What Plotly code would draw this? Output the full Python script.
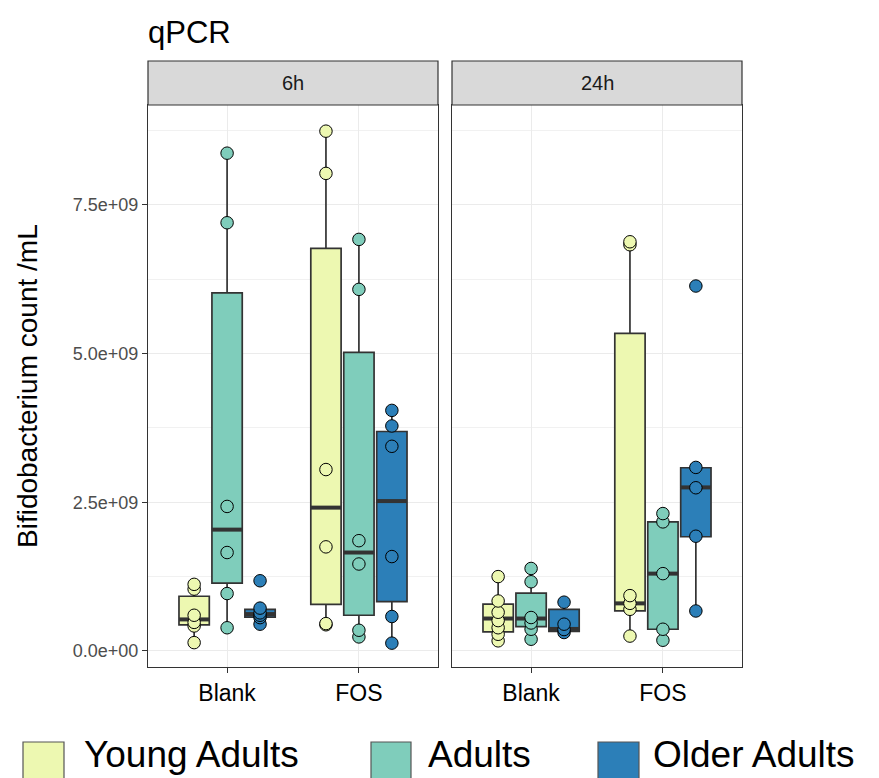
import plotly.graph_objects as go

# ---------------- data (values in units of 1e9 per mL) ----------------
timepoints = ["6h", "24h"]
treatments = ["Blank", "FOS"]
groups = ["Young Adults", "Adults", "Older Adults"]
colors = ["#edf8b1", "#7fcdbb", "#2c7fb8"]

young_6h_blank = [0.14, 0.42, 0.48, 0.60, 1.04, 1.12]
adults_6h_blank = [0.39, 0.965, 1.655, 2.43, 7.20, 8.37]
older_6h_blank = [0.45, 0.56, 0.60, 0.64, 0.72, 1.18]
young_6h_fos = [0.44, 0.46, 1.75, 3.05, 8.03, 8.74]
adults_6h_fos = [0.236, 0.348, 1.462, 1.854, 6.08, 6.92]
older_6h_fos = [0.131, 0.579, 1.587, 3.441, 3.783, 4.045]
young_24h_blank = [0.17, 0.28, 0.39, 0.51, 0.65, 0.84, 1.25]
adults_24h_blank = [0.197, 0.365, 0.47, 0.562, 1.163, 1.387]
older_24h_blank = [0.31, 0.36, 0.45, 0.82]
young_24h_fos = [0.25, 0.70, 0.80, 0.93, 6.83, 6.88]
adults_24h_fos = [0.18, 0.365, 1.30, 2.17, 2.31]
older_24h_fos = [0.672, 1.929, 2.744, 3.086, 6.136]

# box statistics, order: 6h Blank, 6h FOS, 24h Blank, 24h FOS
young_q1 = [0.44, 0.784, 0.32, 0.674]
young_med = [0.53, 2.41, 0.545, 0.80]
young_q3 = [0.92, 6.77, 0.787, 5.34]
young_lo = [0.14, 0.44, 0.17, 0.25]
young_hi = [1.12, 8.74, 1.25, 6.88]
adults_q1 = [1.14, 0.60, 0.41, 0.365]
adults_med = [2.04, 1.655, 0.545, 1.30]
adults_q3 = [6.02, 5.02, 0.972, 2.17]
adults_lo = [0.39, 0.236, 0.197, 0.18]
adults_hi = [8.37, 6.92, 1.387, 2.31]
older_q1 = [0.57, 0.83, 0.33, 1.92]
older_med = [0.62, 2.52, 0.37, 2.75]
older_q3 = [0.70, 3.69, 0.70, 3.08]
older_lo = [0.45, 0.131, 0.31, 0.672]
older_hi = [0.70, 4.045, 0.82, 3.08]

y_tickvals = [0, 2.5, 5.0, 7.5]
y_ticktext = ["0.0e+00", "2.5e+09", "5.0e+09", "7.5e+09"]

points = {
    ("6h", "Young Adults"): [young_6h_blank, young_6h_fos],
    ("6h", "Adults"): [adults_6h_blank, adults_6h_fos],
    ("6h", "Older Adults"): [older_6h_blank, older_6h_fos],
    ("24h", "Young Adults"): [young_24h_blank, young_24h_fos],
    ("24h", "Adults"): [adults_24h_blank, adults_24h_fos],
    ("24h", "Older Adults"): [older_24h_blank, older_24h_fos],
}
stats = {
    "Young Adults": (young_q1, young_med, young_q3, young_lo, young_hi),
    "Adults": (adults_q1, adults_med, adults_q3, adults_lo, adults_hi),
    "Older Adults": (older_q1, older_med, older_q3, older_lo, older_hi),
}

SCALE = 1e9
DODGE = 0.25
BOXW = 0.23
FONT = "Liberation Sans, Arial, sans-serif"

fig = go.Figure()
axes = [("x", "y"), ("x2", "y2")]

# boxes
for ti, tp in enumerate(timepoints):
    xa, ya = axes[ti]
    for gi, g in enumerate(groups):
        q1, med, q3, lo, hi = stats[g]
        sl = slice(ti * 2, ti * 2 + 2)
        pos = [ci + 1 + (gi - 1) * DODGE for ci in range(len(treatments))]
        fig.add_trace(go.Box(
            x=pos,
            q1=[v * SCALE for v in q1[sl]],
            median=[v * SCALE for v in med[sl]],
            q3=[v * SCALE for v in q3[sl]],
            lowerfence=[v * SCALE for v in lo[sl]],
            upperfence=[v * SCALE for v in hi[sl]],
            width=BOXW, whiskerwidth=0, boxpoints=False,
            fillcolor=colors[gi], line=dict(color="#333333", width=1.7),
            xaxis=xa, yaxis=ya, showlegend=False, name=g, hoverinfo="skip",
        ))

# thick median lines
for ti, tp in enumerate(timepoints):
    xa, ya = axes[ti]
    for gi, g in enumerate(groups):
        med = stats[g][1][ti * 2: ti * 2 + 2]
        xs, ys = [], []
        for ci in range(len(treatments)):
            p = ci + 1 + (gi - 1) * DODGE
            xs += [p - BOXW / 2, p + BOXW / 2, None]
            ys += [med[ci] * SCALE, med[ci] * SCALE, None]
        fig.add_trace(go.Scatter(x=xs, y=ys, mode="lines",
                                 line=dict(color="#333333", width=4),
                                 xaxis=xa, yaxis=ya, showlegend=False, hoverinfo="skip"))

# points
for ti, tp in enumerate(timepoints):
    xa, ya = axes[ti]
    for gi, g in enumerate(groups):
        xs, ys = [], []
        for ci, vals in enumerate(points[(tp, g)]):
            p = ci + 1 + (gi - 1) * DODGE
            xs += [p] * len(vals)
            ys += [v * SCALE for v in vals]
        fig.add_trace(go.Scatter(x=xs, y=ys, mode="markers",
                                 marker=dict(size=12.5, color=colors[gi],
                                             line=dict(color="black", width=1)),
                                 xaxis=xa, yaxis=ya, showlegend=False))

# ---------------- layout ----------------
W, H = 879, 778
L, R, T, B = 148, 137, 105, 111
PW, PH = W - L - R, H - T - B


def px_x(px):
    return (px - L) / PW


def px_y(py):
    return (H - B - py) / PH


grid = "#ebebeb"
border = "#333333"
xcommon = dict(range=[0.4, 2.6], tickmode="array", tickvals=[1, 2], ticktext=treatments,
               showgrid=True, gridcolor=grid, gridwidth=1.2, zeroline=False,
               showline=True, mirror=True, linecolor=border, linewidth=1.2,
               ticks="outside", ticklen=5, tickcolor=border, tickwidth=1.2,
               tickfont=dict(family=FONT, size=23, color="black"))
yrange = [-0.27 * SCALE, 9.18 * SCALE]
ycommon = dict(range=yrange, tickmode="array", tickvals=[v * SCALE for v in y_tickvals],
               ticktext=y_ticktext, showgrid=True, gridcolor=grid, gridwidth=1.2,
               zeroline=False, showline=True, mirror=True, linecolor=border, linewidth=1.2,
               minor=dict(tickmode="array", tickvals=[1.25e9, 3.75e9, 6.25e9, 8.75e9],
                          showgrid=True, gridcolor="#f1f1f1", gridwidth=0.9, ticks=""),
               tickfont=dict(family=FONT, size=18, color="#4d4d4d"))

fig.update_layout(
    width=W, height=H, margin=dict(l=L, r=R, t=T, b=B, autoexpand=False),
    plot_bgcolor="white", paper_bgcolor="white", showlegend=False,
    xaxis=dict(domain=[0, 290 / PW], anchor="y", **xcommon),
    xaxis2=dict(domain=[304 / PW, 1], anchor="y2", **xcommon),
    yaxis=dict(domain=[0, 1], anchor="x", ticks="outside", ticklen=5, tickcolor=border,
               tickwidth=1.2, **ycommon),
    yaxis2=dict(domain=[0, 1], anchor="x2", matches="y", showticklabels=False, ticks="",
                **ycommon),
    boxmode="overlay",
    title=dict(text="qPCR", font=dict(family=FONT, size=31, color="black"),
               xref="paper", x=0, xanchor="left", yref="container",
               y=1 - 32 / H, yanchor="middle"),
)

# facet strips
strip_top = px_y(61)
for ti, tp in enumerate(timepoints):
    xr = "x domain" if ti == 0 else "x2 domain"
    fig.add_shape(type="rect", xref=xr, yref="paper", x0=0, x1=1, y0=1, y1=strip_top,
                  fillcolor="#d9d9d9", line=dict(color=border, width=1.2), layer="above")
    fig.add_annotation(xref=xr, yref="paper", x=0.5, y=(1 + strip_top) / 2,
                       text=tp, showarrow=False, font=dict(family=FONT, size=20, color="#1a1a1a"),
                       xanchor="center", yanchor="middle")

# y-axis title
fig.add_annotation(xref="paper", yref="paper", x=px_x(27), y=0.5, text="Bifidobacterium count /mL",
                   textangle=-90, showarrow=False, xanchor="center", yanchor="middle",
                   font=dict(family=FONT, size=28, color="black"))

# legend (manual, bottom)
sw = [(23, 64), (371, 411), (598, 639)]
tx = [82, 426, 651]
for gi, g in enumerate(groups):
    fig.add_shape(type="rect", xref="paper", yref="paper",
                  x0=px_x(sw[gi][0]), x1=px_x(sw[gi][1]), y0=px_y(742), y1=px_y(782),
                  fillcolor=colors[gi], line=dict(color="#555555", width=1.2))
    fig.add_annotation(xref="paper", yref="paper", x=px_x(tx[gi]), y=px_y(754), text=g,
                       showarrow=False, xanchor="left", yanchor="middle",
                       font=dict(family=FONT, size=37, color="black"))

fig.write_html("out.html")
